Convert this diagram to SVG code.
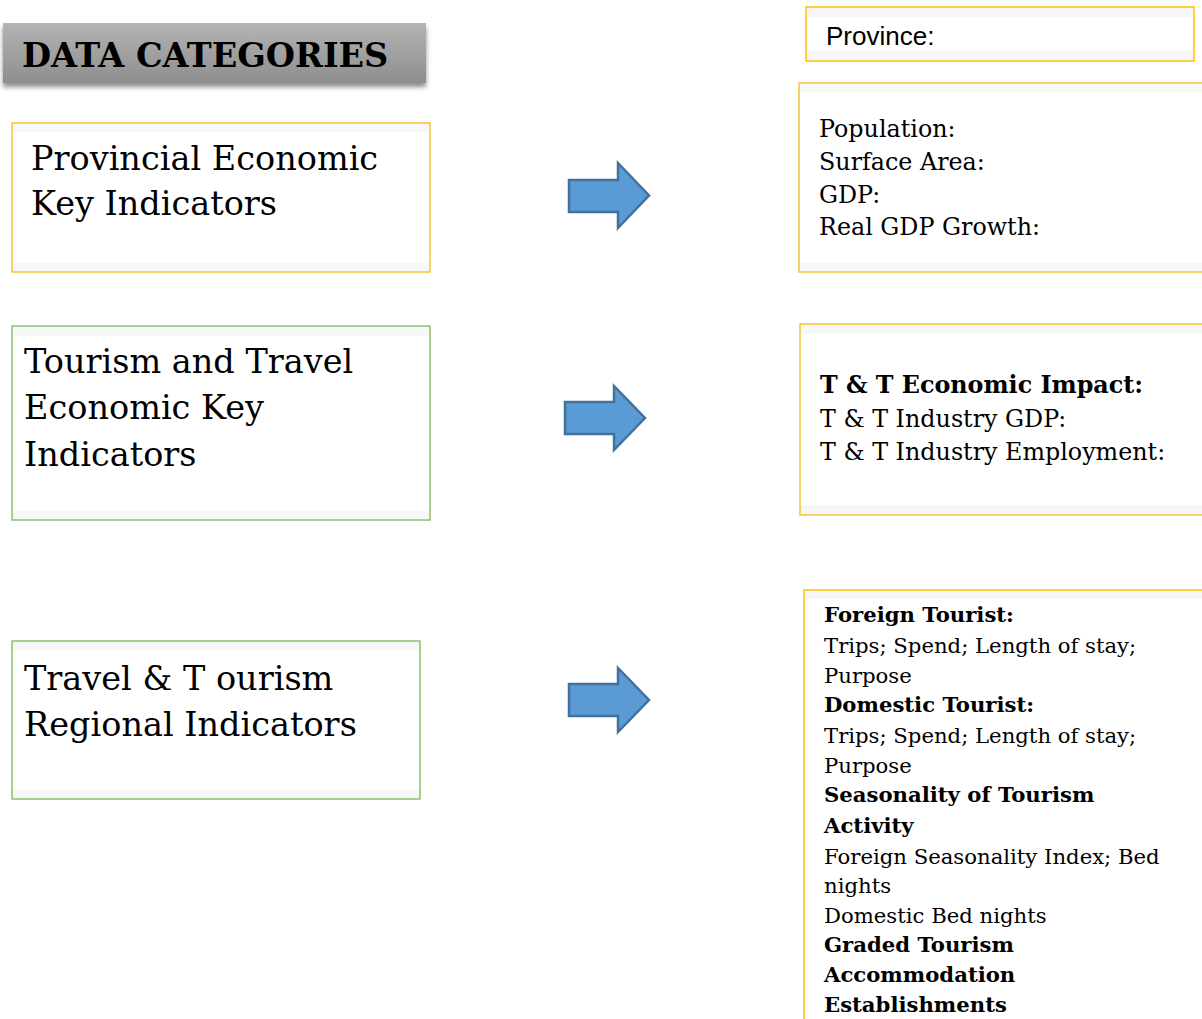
<svg xmlns="http://www.w3.org/2000/svg" width="1202" height="1019" viewBox="0 0 1202 1019">
  <defs>
    <linearGradient id="hdrFill" x1="0" y1="0" x2="0" y2="1">
      <stop offset="0" stop-color="#b4b4b4"/>
      <stop offset="1" stop-color="#8e8e8e"/>
    </linearGradient>
    <filter id="hdrShadow" x="-5%" y="-20%" width="110%" height="160%">
      <feDropShadow dx="0" dy="4" stdDeviation="2.5" flood-color="#000" flood-opacity="0.45"/>
    </filter>
  </defs>
  <style>
    .slab { font-family: "DejaVu Serif", "Liberation Serif", serif; fill: #000; }
    .big { font-size: 33.5px; }
    .mid { font-size: 23.8px; }
    .sm { font-size: 21.2px; }
    .b { font-weight: bold; }
    .sans { font-family: "Liberation Sans", Arial, sans-serif; font-size: 26px; fill: #000; }
    .box { fill: #fff; stroke-width: 1.5; }
    .yel { stroke: #ffc000; }
    .yel2 { stroke: #f7c23a; }
    .grn { stroke: #8cc068; }
    .band { fill: #f7f7f7; }
    .arrow { fill: #5b9bd5; stroke: #41719c; stroke-width: 2.5; stroke-linejoin: miter; }
  </style>

  <rect width="1202" height="1019" fill="#fff"/>

  <!-- title bar -->
  <g id="title">
    <rect x="3" y="23" width="423" height="60" fill="url(#hdrFill)" filter="url(#hdrShadow)"/>
    <text class="slab b" x="22" y="67" font-size="33.5">DATA CATEGORIES</text>
  </g>

  <!-- category boxes, left column -->
  <g id="cat-provincial">
    <rect class="box yel2" x="12" y="123" width="418" height="149"/>
    <rect class="band" x="13" y="124" width="416" height="8"/>
    <rect class="band" x="13" y="263" width="416" height="8"/>
    <text class="slab big" x="31" y="170">Provincial Economic</text>
    <text class="slab big" x="31" y="215">Key Indicators</text>
  </g>

  <g id="cat-tourism-economic">
    <rect class="box grn" x="12" y="326" width="418" height="194"/>
    <rect class="band" x="13" y="327" width="416" height="9"/>
    <rect class="band" x="13" y="511" width="416" height="8"/>
    <text class="slab big" x="24" y="373">Tourism and Travel</text>
    <text class="slab big" x="24" y="419">Economic Key</text>
    <text class="slab big" x="24" y="466">Indicators</text>
  </g>

  <g id="cat-regional">
    <rect class="box grn" x="12" y="641" width="408" height="158"/>
    <rect class="band" x="13" y="642" width="406" height="8"/>
    <rect class="band" x="13" y="790" width="406" height="8"/>
    <text class="slab big" x="24" y="690">Travel &amp; T ourism</text>
    <text class="slab big" x="24" y="736">Regional Indicators</text>
  </g>

  <!-- detail boxes, right column -->
  <g id="province">
    <rect class="box yel" x="806" y="7" width="388" height="54"/>
    <rect class="band" x="807" y="8" width="386" height="9"/>
    <rect class="band" x="807" y="51" width="386" height="9"/>
    <text class="sans" x="826" y="45">Province:</text>
  </g>

  <g id="detail-provincial">
    <rect class="box yel2" x="799" y="83" width="420" height="189"/>
    <rect class="band" x="800" y="84" width="402" height="8"/>
    <rect class="band" x="800" y="263" width="402" height="8"/>
    <text class="slab mid" x="819" y="137">Population:</text>
    <text class="slab mid" x="819" y="170">Surface Area:</text>
    <text class="slab mid" x="819" y="203">GDP:</text>
    <text class="slab mid" x="819" y="235">Real GDP Growth:</text>
  </g>

  <g id="detail-tourism-economic">
    <rect class="box yel2" x="800" y="324" width="420" height="191"/>
    <rect class="band" x="801" y="325" width="401" height="9"/>
    <rect class="band" x="801" y="505" width="401" height="9"/>
    <text class="slab mid b" x="820" y="393">T &amp; T Economic Impact:</text>
    <text class="slab mid" x="820" y="427">T &amp; T Industry GDP:</text>
    <text class="slab mid" x="820" y="460">T &amp; T Industry Employment:</text>
  </g>

  <g id="detail-regional">
    <rect class="box yel" x="804" y="590" width="420" height="440"/>
    <rect class="band" x="805" y="591" width="397" height="8"/>
    <text class="slab sm b" x="824" y="622">Foreign Tourist:</text>
    <text class="slab sm" x="824" y="653">Trips; Spend; Length of stay;</text>
    <text class="slab sm" x="824" y="683">Purpose</text>
    <text class="slab sm b" x="824" y="712">Domestic Tourist:</text>
    <text class="slab sm" x="824" y="743">Trips; Spend; Length of stay;</text>
    <text class="slab sm" x="824" y="773">Purpose</text>
    <text class="slab sm b" x="824" y="802">Seasonality of Tourism</text>
    <text class="slab sm b" x="824" y="833">Activity</text>
    <text class="slab sm" x="824" y="864">Foreign Seasonality Index; Bed</text>
    <text class="slab sm" x="824" y="893">nights</text>
    <text class="slab sm" x="824" y="923">Domestic Bed nights</text>
    <text class="slab sm b" x="824" y="952">Graded Tourism</text>
    <text class="slab sm b" x="824" y="982">Accommodation</text>
    <text class="slab sm b" x="824" y="1012">Establishments</text>
  </g>

  <!-- block arrows linking each category to its details -->
  <g id="connectors">
    <path class="arrow" d="M569,180 H618 V163 L649,195.5 L618,228 V212 H569 Z"/>
    <path class="arrow" d="M565,402 H614 V386 L645,418 L614,450 V434 H565 Z"/>
    <path class="arrow" d="M569,684 H618 V668 L649,700 L618,732 V716 H569 Z"/>
  </g>
</svg>
